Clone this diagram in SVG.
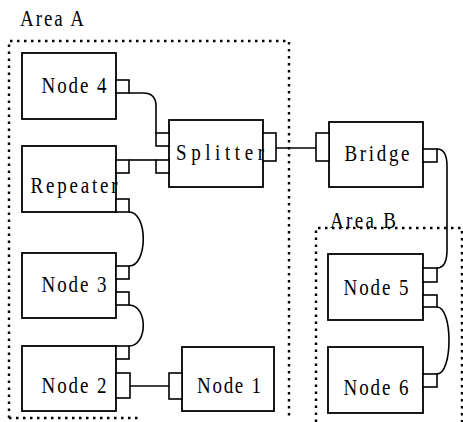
<svg xmlns="http://www.w3.org/2000/svg" width="463" height="422" viewBox="0 0 463 422">
<style>
  .box { fill:#fff; stroke:#000; stroke-width:1.8; }
  .port { fill:#fff; stroke:#000; stroke-width:1.6; }
  .wire { fill:none; stroke:#000; stroke-width:1.6; }
  .area { fill:none; stroke:#000; stroke-width:2.4; stroke-dasharray:2.5 4.5; }
  .t { font-family:"Liberation Serif", "DejaVu Serif", serif; font-size:19px; fill:#000; text-anchor:middle; }
  .lbl { font-family:"Liberation Serif", "DejaVu Serif", serif; font-size:19px; fill:#000; }
</style>
<rect width="463" height="422" fill="#fff"/>
<g id="areaA">
  <path class="area" d="M9,418 V41 H289 V416 M9,418 H140"/>
  <text class="lbl" transform="translate(20,26) scale(1,1.2)" textLength="64" lengthAdjust="spacing">Area A</text>
</g>
<g id="areaB">
  <path class="area" d="M316,422 V228 H462 V422"/>
  <text class="lbl" transform="translate(330,228) scale(1,1.2)" textLength="66" lengthAdjust="spacing">Area B</text>
</g>
<g id="connectors">
  <path class="wire" d="M129,93 H143 Q156,93 156,106 V133"/>
  <path class="wire" d="M129,160 H156"/>
  <path class="wire" d="M129,212 C148,212 148,266 129,266"/>
  <path class="wire" d="M129,305 C148,305 148,346 129,346"/>
  <path class="wire" d="M130,386 H169"/>
  <path class="wire" d="M276,148 H316"/>
  <path class="wire" d="M437,149 Q447,149 447,166 V250 Q447,268 437,268"/>
  <path class="wire" d="M437,307 C453,307 453,374 437,374"/>
</g>
<g id="node4">
  <rect class="box" x="22" y="53" width="94" height="66"/>
  <rect class="port" x="116" y="80" width="13" height="13"/>
  <text class="t" transform="translate(74,93) scale(1,1.2)" textLength="65" lengthAdjust="spacing">Node 4</text>
</g>
<g id="repeater">
  <rect class="box" x="22" y="146" width="94" height="66"/>
  <rect class="port" x="116" y="160" width="13" height="13"/>
  <rect class="port" x="116" y="199" width="13" height="13"/>
  <text class="t" transform="translate(74,193) scale(1,1.2)" textLength="87" lengthAdjust="spacing">Repeater</text>
</g>
<g id="node3">
  <rect class="box" x="22" y="253" width="94" height="65"/>
  <rect class="port" x="116" y="266" width="13" height="13"/>
  <rect class="port" x="116" y="292" width="13" height="13"/>
  <text class="t" transform="translate(74,292) scale(1,1.2)" textLength="65" lengthAdjust="spacing">Node 3</text>
</g>
<g id="node2">
  <rect class="box" x="22" y="346" width="94" height="65"/>
  <rect class="port" x="116" y="346" width="13" height="13"/>
  <rect class="port" x="116" y="373" width="14" height="25"/>
  <text class="t" transform="translate(74,393) scale(1,1.2)" textLength="65" lengthAdjust="spacing">Node 2</text>
</g>
<g id="node1">
  <rect class="box" x="182" y="347" width="92" height="64"/>
  <rect class="port" x="169" y="373" width="13" height="26"/>
  <text class="t" transform="translate(229,393) scale(1,1.2)" textLength="64" lengthAdjust="spacing">Node 1</text>
</g>
<g id="splitter">
  <rect class="box" x="169" y="120" width="94" height="67"/>
  <rect class="port" x="156" y="133" width="13" height="13"/>
  <rect class="port" x="156" y="160" width="13" height="13"/>
  <rect class="port" x="263" y="133" width="13" height="28"/>
  <text class="t" transform="translate(220,160) scale(1,1.2)" textLength="88" lengthAdjust="spacing">Splitter</text>
</g>
<g id="bridge">
  <rect class="box" x="329" y="122" width="94" height="65"/>
  <rect class="port" x="316" y="133" width="13" height="28"/>
  <rect class="port" x="423" y="149" width="14" height="13"/>
  <text class="t" transform="translate(377,161) scale(1,1.2)" textLength="65" lengthAdjust="spacing">Bridge</text>
</g>
<g id="node5">
  <rect class="box" x="328" y="254" width="95" height="66"/>
  <rect class="port" x="423" y="268" width="14" height="14"/>
  <rect class="port" x="423" y="295" width="14" height="12"/>
  <text class="t" transform="translate(376,295) scale(1,1.2)" textLength="65" lengthAdjust="spacing">Node 5</text>
</g>
<g id="node6">
  <rect class="box" x="328" y="347" width="95" height="66"/>
  <rect class="port" x="423" y="374" width="14" height="13"/>
  <text class="t" transform="translate(376,395) scale(1,1.2)" textLength="65" lengthAdjust="spacing">Node 6</text>
</g>
</svg>
